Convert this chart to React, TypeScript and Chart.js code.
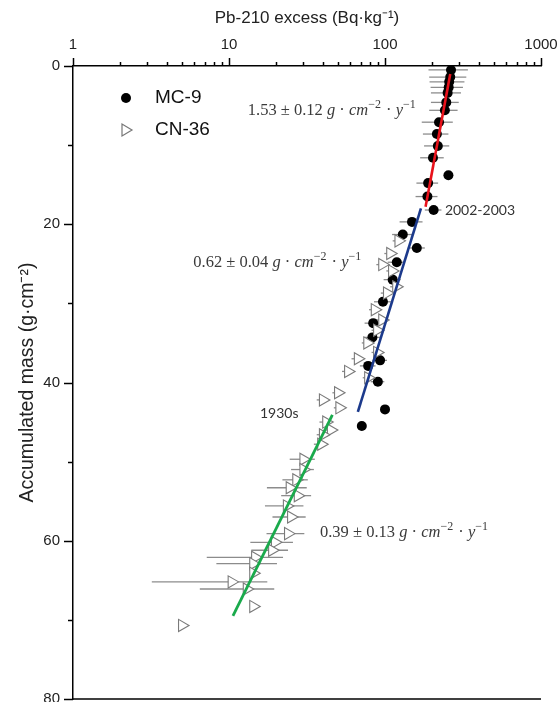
import React, { useEffect, useRef } from 'react';
import { Chart, registerables } from 'chart.js';

Chart.register(...registerables);

// ---- Data ----
// MC-9 core: accumulated mass (g/cm2), Pb-210 excess (Bq/kg), +/- error
const mc9Mass = [0.5, 1.4, 2.0, 2.7, 3.4, 4.6, 5.6, 7.1, 8.6, 10.1, 11.6, 13.8, 14.8, 16.5, 18.2, 19.7, 21.3, 23.0, 24.8, 27.0, 29.8, 32.5, 34.3, 37.2, 37.9, 39.9, 43.4, 45.5];
const mc9Pb = [265, 262, 258, 256, 252, 247, 242, 222, 215, 218, 203, 255, 189, 187, 205, 149, 130, 160, 119, 112, 97, 84, 83, 93, 78, 90, 100, 71];
const mc9Err = [75, 70, 65, 60, 55, 50, 50, 50, 40, 40, 35, 0, 30, 30, 25, 25, 19, 20, 15, 14, 12, 10, 10, 10, 9, 9, 0, 0];

// CN-36 core
const cn36Mass = [22.1, 23.7, 25.1, 25.9, 27.9, 28.7, 30.8, 32.1, 33.4, 35.0, 36.2, 37.0, 38.6, 39.4, 41.3, 42.2, 43.2, 45.0, 46.0, 46.6, 47.8, 49.7, 51.0, 52.3, 53.3, 54.3, 55.6, 57.0, 59.1, 60.2, 61.2, 62.1, 62.9, 64.1, 65.2, 66.1, 68.3, 70.7];
const cn36Pb = [122, 108, 96, 111, 118, 103, 86, 96, 89, 77, 89, 67, 58, 78, 50, 40, 51, 42, 45, 40, 39, 30, 30, 27, 24.5, 27.6, 23.5, 25, 23.9, 19.7, 18.9, 14.7, 14.3, 14.3, 10.4, 13.0, 14.3, 5.0];
const cn36Err = [10, 9, 8, 9, 10, 9, 7, 8, 7, 6, 7, 6, 5, 6, 4, 3.5, 4, 4, 4, 3.5, 4, 5.5, 5, 5, 7, 6, 6.5, 6, 6.5, 6, 5, 7.5, 6, 0, 7.2, 6.5, 0, 0];

// Fitted segments (end points)
const fitRedMass = [1.0, 17.8];
const fitRedPb = [262, 182];
const fitBlueMass = [18.0, 43.7];
const fitBluePb = [170, 67];
const fitGreenMass = [44.1, 69.5];
const fitGreenPb = [46, 10.6];

// Axis ticks
const xMajorTicks = [1, 10, 100, 1000];
const yMajorTicks = [0, 20, 40, 60, 80];

// Annotation anchors in data units (Pb, mass)
const rateLabels = [
  { pb: 13.2, mass: 5.6, rate: '1.53 ± 0.12 ' },
  { pb: 5.9, mass: 24.8, rate: '0.62 ± 0.04 ' },
  { pb: 38.3, mass: 58.9, rate: '0.39 ± 0.13 ' },
];
const eventLabels = [
  { pb: 15.8, mass: 43.9, text: '1930s' },
  { pb: 242, mass: 18.2, text: '2002-2003' },
];

const toPoints = (xs: number[], ys: number[]) => ys.map((m, i) => ({ x: xs[i], y: m }));

const SANS = '"Liberation Sans", Arial, sans-serif';
const SERIF = '"Liberation Serif", "DejaVu Serif", serif';

const errorBarPlugin = {
  id: 'errorBars',
  beforeDatasetsDraw(chart: any) {
    const { ctx, chartArea } = chart;
    const xs = chart.scales.x;
    const ys = chart.scales.y;
    ctx.save();
    ctx.beginPath();
    ctx.rect(chartArea.left, chartArea.top, chartArea.right - chartArea.left, chartArea.bottom - chartArea.top);
    ctx.clip();
    ctx.strokeStyle = '#8c8c8c';
    ctx.lineWidth = 1.3;
    const sets = [
      { pb: mc9Pb, mass: mc9Mass, err: mc9Err },
      { pb: cn36Pb, mass: cn36Mass, err: cn36Err },
    ];
    sets.forEach((s) => {
      s.pb.forEach((v, i) => {
        const e = s.err[i];
        if (!e) return;
        const lo = Math.max(v - e, 1);
        const hi = v + e;
        const py = ys.getPixelForValue(s.mass[i]);
        ctx.beginPath();
        ctx.moveTo(xs.getPixelForValue(lo), py);
        ctx.lineTo(xs.getPixelForValue(hi), py);
        ctx.stroke();
      });
    });
    ctx.restore();
  },
};

const axisDecorPlugin = {
  id: 'axisDecor',
  afterDraw(chart: any) {
    const { ctx, chartArea } = chart;
    const xs = chart.scales.x;
    const ys = chart.scales.y;
    ctx.save();
    ctx.strokeStyle = '#000';
    ctx.lineWidth = 1.5;
    [1, 10, 100].forEach((d) => {
      for (let k = 1; k <= 9; k++) {
        const px = Math.round(xs.getPixelForValue(k * d)) + 0.5;
        const len = k === 1 ? 8 : 4;
        ctx.beginPath();
        ctx.moveTo(px, chartArea.top);
        ctx.lineTo(px, chartArea.top - len);
        ctx.stroke();
      }
    });
    const p1000 = Math.round(xs.getPixelForValue(1000)) + 0.5;
    ctx.beginPath();
    ctx.moveTo(p1000, chartArea.top);
    ctx.lineTo(p1000, chartArea.top - 8);
    ctx.stroke();
    for (let m = 0; m <= 80; m += 10) {
      const py = Math.round(ys.getPixelForValue(m)) + 0.5;
      const len = m % 20 === 0 ? 9 : 5;
      ctx.beginPath();
      ctx.moveTo(chartArea.left, py);
      ctx.lineTo(chartArea.left - len, py);
      ctx.stroke();
    }
    ctx.beginPath();
    ctx.moveTo(chartArea.left, chartArea.bottom);
    ctx.lineTo(chartArea.right, chartArea.bottom);
    ctx.stroke();
    ctx.restore();
  },
};

function drawRate(ctx: CanvasRenderingContext2D, x: number, y: number, rate: string) {
  const size = 16.5;
  const parts: { t: string; it?: boolean; sup?: boolean }[] = [
    { t: rate },
    { t: 'g', it: true },
    { t: ' · ' },
    { t: 'cm', it: true },
    { t: '−2', sup: true },
    { t: ' · ' },
    { t: 'y', it: true },
    { t: '−1', sup: true },
  ];
  let cx = x;
  ctx.fillStyle = '#3a3a3a';
  ctx.textBaseline = 'alphabetic';
  ctx.textAlign = 'left';
  parts.forEach((p) => {
    const fs = p.sup ? Math.round(size * 0.72) : size;
    ctx.font = `${p.it ? 'italic ' : ''}${fs}px ${SERIF}`;
    const dy = p.sup ? -size * 0.42 : 0;
    ctx.fillText(p.t, cx, y + dy);
    cx += ctx.measureText(p.t).width + (p.sup ? 1 : 0);
  });
}

const annotationPlugin = {
  id: 'annotations',
  afterDraw(chart: any) {
    const { ctx, chartArea } = chart;
    const xs = chart.scales.x;
    const ys = chart.scales.y;
    ctx.save();
    rateLabels.forEach((r) => {
      drawRate(ctx, xs.getPixelForValue(r.pb), ys.getPixelForValue(r.mass) + 5, r.rate);
    });
    ctx.font = `14px Lato, "Open Sans", sans-serif`;
    ctx.fillStyle = '#333';
    ctx.textBaseline = 'middle';
    ctx.textAlign = 'left';
    eventLabels.forEach((e) => {
      ctx.fillText(e.text, xs.getPixelForValue(e.pb), ys.getPixelForValue(e.mass));
    });
    // legend
    const lx = chartArea.left + 53;
    const ly1 = chartArea.top + 32;
    const ly2 = chartArea.top + 64;
    ctx.fillStyle = '#000';
    ctx.beginPath();
    ctx.arc(lx, ly1, 5, 0, Math.PI * 2);
    ctx.fill();
    ctx.strokeStyle = '#777';
    ctx.lineWidth = 1.2;
    ctx.fillStyle = '#fff';
    ctx.beginPath();
    ctx.moveTo(lx + 6, ly2);
    ctx.lineTo(lx - 4, ly2 - 6);
    ctx.lineTo(lx - 4, ly2 + 6);
    ctx.closePath();
    ctx.fill();
    ctx.stroke();
    ctx.fillStyle = '#111';
    ctx.font = `19px ${SANS}`;
    ctx.textBaseline = 'middle';
    ctx.fillText('MC-9', lx + 29, ly1);
    ctx.fillText('CN-36', lx + 29, ly2);
    ctx.restore();
  },
};

export default function App() {
  const ref = useRef<HTMLCanvasElement | null>(null);
  useEffect(() => {
    if (!ref.current) return;
    const chart = new Chart(ref.current, {
      type: 'scatter',
      data: {
        datasets: [
          {
            label: 'fit 1',
            data: toPoints(fitRedPb, fitRedMass),
            showLine: true,
            borderColor: '#e8121b',
            borderWidth: 2.6,
            pointRadius: 0,
            order: 0,
          } as any,
          {
            label: 'fit 2',
            data: toPoints(fitBluePb, fitBlueMass),
            showLine: true,
            borderColor: '#1c3a8c',
            borderWidth: 2.6,
            pointRadius: 0,
            order: 0,
          },
          {
            label: 'fit 3',
            data: toPoints(fitGreenPb, fitGreenMass),
            showLine: true,
            borderColor: '#1aaa4c',
            borderWidth: 2.8,
            pointRadius: 0,
            order: 0,
          },
          {
            label: 'CN-36',
            data: toPoints(cn36Pb, cn36Mass),
            pointStyle: 'triangle',
            rotation: 90,
            pointRadius: 7,
            pointBackgroundColor: '#ffffff',
            pointBorderColor: '#7a7a7a',
            pointBorderWidth: 1.1,
            order: 1,
          } as any,
          {
            label: 'MC-9',
            data: toPoints(mc9Pb, mc9Mass),
            pointStyle: 'circle',
            pointRadius: 5,
            pointBackgroundColor: '#000',
            pointBorderColor: '#000',
            pointBorderWidth: 0,
            order: 2,
          },
        ],
      },
      options: {
        animation: false,
        responsive: false,
        devicePixelRatio: 1,
        layout: { padding: { left: 0, right: 18, top: 0, bottom: 3 }, autoPadding: false } as any,
        plugins: { legend: { display: false }, tooltip: { enabled: false } },
        scales: {
          x: {
            type: 'logarithmic',
            position: 'top',
            min: 1,
            max: 1000,
            grid: { display: false, drawTicks: false },
            border: { display: true, color: '#000', width: 1.5 },
            afterBuildTicks: (s: any) => {
              s.ticks = xMajorTicks.map((v) => ({ value: v }));
            },
            afterFit: (s: any) => {
              s.height = 66;
              s.paddingLeft = 0;
              s.paddingRight = 0;
            },
            ticks: {
              autoSkip: false,
              maxRotation: 0,
              padding: 12,
              color: '#222',
              font: { family: SANS, size: 15 },
              callback: (v: any) => String(v),
            },
            title: {
              display: true,
              text: 'Pb-210 excess (Bq·kg⁻¹)',
              color: '#222',
              font: { family: SANS, size: 17 },
              padding: { top: 8, bottom: 0 },
            },
          },
          y: {
            type: 'linear',
            position: 'left',
            reverse: true,
            min: 0,
            max: 80,
            grid: { display: false, drawTicks: false },
            border: { display: true, color: '#000', width: 1.5 },
            afterBuildTicks: (s: any) => {
              s.ticks = yMajorTicks.map((v) => ({ value: v }));
            },
            afterFit: (s: any) => {
              s.width = 73;
              s.paddingTop = 0;
              s.paddingBottom = 0;
            },
            ticks: {
              autoSkip: false,
              padding: 13,
              color: '#222',
              font: { family: SANS, size: 15 },
            },
            title: {
              display: true,
              text: 'Accumulated mass (g·cm⁻²)',
              color: '#222',
              font: { family: SANS, size: 19.5 },
              padding: { top: 16, bottom: 0 },
            },
          },
        },
      },
      plugins: [errorBarPlugin, axisDecorPlugin, annotationPlugin],
    });
    return () => chart.destroy();
  }, []);
  return (
    <div style={{ position: 'absolute', left: 0, top: 0, width: 559, height: 702, background: '#fff' }}>
      <canvas ref={ref} width={559} height={702} />
    </div>
  );
}
